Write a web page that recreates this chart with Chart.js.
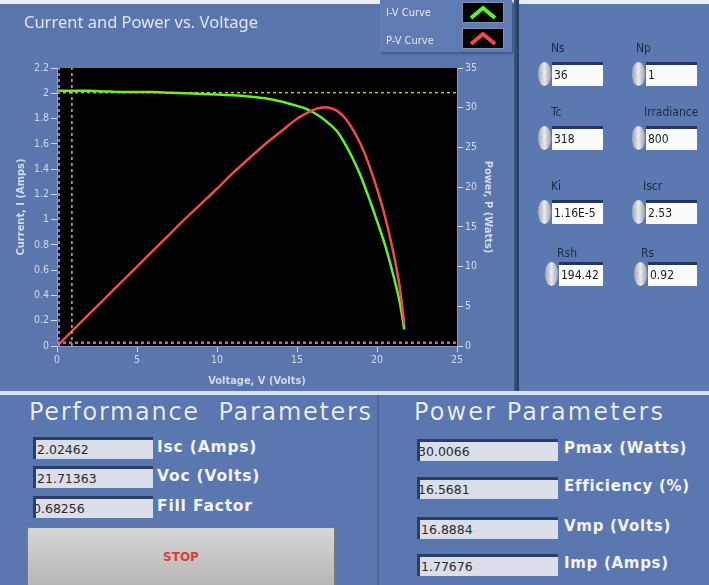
<!DOCTYPE html>
<html>
<head>
<meta charset="utf-8">
<script src="https://cdn.jsdelivr.net/npm/chart.js@4.4.1/dist/chart.umd.min.js"></script>
<style>
  body { margin: 0; width: 709px; height: 585px; overflow: hidden; background: #e8eef8; position: relative; font-family: 'DejaVu Sans', sans-serif; }
  .abs { position: absolute; }
  #top { left: 0; top: 4px; width: 516px; height: 388px; background: #5a76ad; }
  #divider { left: 514px; top: 0; width: 5px; height: 392px; background: linear-gradient(to right, #3d5686, #24375e); }
  #right { left: 519px; top: 4px; width: 190px; height: 388px; background: #5b78b0; }
  #sep { left: 0; top: 391px; width: 709px; height: 4px; background: #d5e2ee; }
  #bottom { left: 0; top: 395px; width: 709px; height: 190px; background: #5b77af; }
  #bdiv { left: 377px; top: 395px; width: 2px; height: 190px; background: #4c6699; }
  #chartWrap { left: 0; top: 0; width: 515px; height: 390px; }
  #title { left: 24px; top: 10px; color: #e2e6ef; font: 16.5px 'Noto Sans', sans-serif; }
  #legend { left: 380px; top: 0; width: 132px; height: 52px; background: #5f7bb2; box-shadow: 2px 2px 2px #3f5888; }
  .leg { position: absolute; left: 6px; color: #e4e8f0; font: 11px 'DejaVu Sans Condensed', sans-serif; }
  .legicon { position: absolute; left: 82px; width: 40px; height: 19px; background: #000; border: 1px solid #8090b0; }
  .hdr { position: absolute; color: #e9edf5; font-size: 24px; text-shadow: 0 0 1px #3a5080; white-space: nowrap; }
  .valbox { position: absolute; height: 19px; background: #d9dee9; border-top: 3px solid #2c3d66; border-left: 3px solid #2c3d66; color: #2a2a2a; font-size: 12.5px; line-height: 19px; padding-left: 1px; overflow: hidden; white-space: nowrap; }
  .vlabel { position: absolute; color: #f2f4f8; font-weight: bold; white-space: nowrap; }
  .vl1 { font-size: 15.5px; letter-spacing: 0.8px; }
  .vl2 { font-size: 15px; letter-spacing: 0.7px; }
  #stop { left: 27px; top: 527px; width: 306px; height: 60px; background: linear-gradient(#d6d6d6, #c2c2c2 60%, #b4b4b4); border: 1px solid #7a7a7a; border-radius: 2px; color: #e03a3a; font-weight: bold; font-size: 12px; text-align: center; line-height: 58px; }
  .clabel { position: absolute; color: #1d2944; font: 12px 'DejaVu Sans Condensed', sans-serif; }
  .spin { position: absolute; width: 13px; height: 24px; border-radius: 7px / 12px; background: linear-gradient(to right, #9ea4ae, #e8eaee 50%, #9ea4ae); }
  .cbox { position: absolute; height: 21px; background: #fbfcfd; border-top: 3px solid #25345c; color: #202020; font: 12px 'DejaVu Sans Condensed', sans-serif; line-height: 21px; padding-left: 2px; }
</style>
</head>
<body>
<div id="top" class="abs"></div>
<div id="divider" class="abs"></div>
<div id="right" class="abs"></div>
<div id="sep" class="abs"></div>
<div id="bottom" class="abs"></div>
<div id="bdiv" class="abs"></div>

<div id="chartWrap" class="abs"><canvas id="ivChart" width="515" height="390"></canvas></div>
<div id="title" class="abs">Current and Power vs. Voltage</div>
<div id="legend" class="abs">
  <div class="leg" style="top:6px">I-V Curve</div>
  <div class="legicon" style="top:2px"><svg width="40" height="19"><polyline points="8,15 20,5 32,15" fill="none" stroke="#5ef02a" stroke-width="4"/></svg></div>
  <div class="leg" style="top:34px">P-V Curve</div>
  <div class="legicon" style="top:28px"><svg width="40" height="19"><polyline points="8,15 20,5 32,15" fill="none" stroke="#f04848" stroke-width="4"/></svg></div>
</div>

<!-- input controls -->
<div class="clabel" style="left:551px;top:41px">Ns</div>
<div class="spin" style="left:538px;top:62px"></div>
<div class="cbox" style="left:552px;top:62px;width:49px">36</div>
<div class="clabel" style="left:636px;top:41px">Np</div>
<div class="spin" style="left:632px;top:62px"></div>
<div class="cbox" style="left:646px;top:62px;width:49px">1</div>

<div class="clabel" style="left:551px;top:105px">Tc</div>
<div class="spin" style="left:538px;top:126px"></div>
<div class="cbox" style="left:552px;top:126px;width:49px">318</div>
<div class="clabel" style="left:644px;top:105px">Irradiance</div>
<div class="spin" style="left:632px;top:126px"></div>
<div class="cbox" style="left:646px;top:126px;width:49px">800</div>

<div class="clabel" style="left:551px;top:179px">Ki</div>
<div class="spin" style="left:538px;top:200px"></div>
<div class="cbox" style="left:552px;top:200px;width:49px">1.16E-5</div>
<div class="clabel" style="left:643px;top:179px">Iscr</div>
<div class="spin" style="left:632px;top:200px"></div>
<div class="cbox" style="left:646px;top:200px;width:49px">2.53</div>

<div class="clabel" style="left:557px;top:246px">Rsh</div>
<div class="spin" style="left:545px;top:262px"></div>
<div class="cbox" style="left:559px;top:262px;width:42px">194.42</div>
<div class="clabel" style="left:641px;top:246px">Rs</div>
<div class="spin" style="left:634px;top:262px"></div>
<div class="cbox" style="left:648px;top:262px;width:47px">0.92</div>

<!-- performance parameters -->
<div class="hdr" style="left:29px;top:398px;letter-spacing:1.7px">Performance&nbsp; Parameters</div>
<div class="valbox" style="left:33px;top:437px;width:116px">2.02462</div>
<div class="vlabel vl1" style="left:157px;top:438px">Isc (Amps)</div>
<div class="valbox" style="left:33px;top:466px;width:116px">21.71363</div>
<div class="vlabel vl1" style="left:157px;top:467px">Voc (Volts)</div>
<div class="valbox" style="left:33px;top:496px;width:116px"><span style="margin-left:-4px">0.68256</span></div>
<div class="vlabel vl1" style="left:157px;top:497px">Fill Factor</div>
<div id="stop" class="abs">STOP</div>

<!-- power parameters -->
<div class="hdr" style="left:414px;top:398px;letter-spacing:2.1px">Power Parameters</div>
<div class="valbox" style="left:417px;top:439px;width:137px"><span style="margin-left:-3px">30.0066</span></div>
<div class="vlabel vl2" style="left:564px;top:439px">Pmax (Watts)</div>
<div class="valbox" style="left:417px;top:477px;width:137px"><span style="margin-left:-3px">16.5681</span></div>
<div class="vlabel vl2" style="left:564px;top:477px">Efficiency (%)</div>
<div class="valbox" style="left:417px;top:517px;width:137px">16.8884</div>
<div class="vlabel vl2" style="left:564px;top:517px">Vmp (Volts)</div>
<div class="valbox" style="left:417px;top:554px;width:137px">1.77676</div>
<div class="vlabel vl2" style="left:564px;top:554px">Imp (Amps)</div>

<script>
// values
const voltage = [0, 1, 2, 3, 4, 5, 6, 7, 8, 9, 10, 11, 12, 13, 14, 15, 15.5, 16, 16.5, 17, 17.5, 18, 18.5, 19, 19.5, 20, 20.5, 21, 21.4, 21.71]
const current = [2.02, 2.02, 2.02, 2.015, 2.01, 2.01, 2.01, 2.005, 2.0, 1.995, 1.99, 1.985, 1.975, 1.96, 1.935, 1.90, 1.88, 1.85, 1.81, 1.76, 1.70, 1.60, 1.48, 1.34, 1.17, 0.99, 0.80, 0.57, 0.36, 0.13]
const power = [0, 2.0, 4.0, 6.0, 8.0, 10.0, 12.0, 14.0, 16.0, 17.9, 19.8, 21.8, 23.6, 25.4, 27.0, 28.6, 29.2, 29.7, 30.0, 30.0, 29.6, 28.7, 27.2, 25.3, 22.8, 19.8, 16.3, 12.0, 7.7, 2.8]

// cursor positions
const cursorV = [0.93, 0.13]
const cursorI = [2.005, 0.026]

// axis ranges
const xRange = [0, 25, 5]
const iRange = [0, 2.2, 0.2]
const pRange = [0, 35, 5]

const tickColor = '#d3dae8'
const tickFont = { family: "'DejaVu Sans Condensed', sans-serif", size: 10.5 }
const titleFont = { family: "'DejaVu Sans Condensed', sans-serif", size: 11, weight: 'bold' }
const fmt = (value) => String(Math.round(value * 10) / 10)

const plotBg = {
	id: 'plotBg',
	beforeDraw(chart) {
		const { ctx, chartArea: a } = chart
		ctx.save()
		ctx.fillStyle = '#000'
		ctx.fillRect(a.left, a.top, a.right - a.left, a.bottom - a.top)
		ctx.restore()
	}
}

const ctx = document.getElementById('ivChart').getContext('2d')

new Chart(ctx, {
	type: 'line',
	data: {
		datasets: [
			{
				data: [{ x: cursorV[1], y: iRange[0] }, { x: cursorV[1], y: iRange[1] }],
				borderColor: '#a872d2', borderWidth: 2, borderDash: [3, 3], pointRadius: 0, yAxisID: 'y'
			},
			{
				data: [{ x: xRange[0], y: cursorI[1] }, { x: xRange[1], y: cursorI[1] }],
				borderColor: '#a872d2', borderWidth: 2.5, borderDash: [3, 3], pointRadius: 0, yAxisID: 'y'
			},
			{
				data: [{ x: cursorV[0], y: iRange[0] }, { x: cursorV[0], y: iRange[1] }],
				borderColor: '#c6c22a', borderWidth: 1.5, borderDash: [3, 3], pointRadius: 0, yAxisID: 'y'
			},
			{
				data: [{ x: xRange[0], y: cursorI[0] }, { x: xRange[1], y: cursorI[0] }],
				borderColor: '#c6c22a', borderWidth: 1.5, borderDash: [3, 3], pointRadius: 0, yAxisID: 'y'
			},
			{
				label: 'P-V Curve',
				data: voltage.map((v, i) => ({ x: v, y: power[i] })),
				borderColor: '#f04a4a', borderWidth: 2.5, pointRadius: 0, tension: 0.3, yAxisID: 'y2'
			},
			{
				label: 'I-V Curve',
				data: voltage.map((v, i) => ({ x: v, y: current[i] })),
				borderColor: '#66f02a', borderWidth: 2.5, pointRadius: 0, tension: 0.3, yAxisID: 'y'
			}
		]
	},
	options: {
		responsive: false,
		animation: false,
		layout: { padding: { top: 68, left: 4, right: 0, bottom: 0 } },
		plugins: {
			legend: { display: false },
			tooltip: { enabled: false }
		},
		scales: {
			x: {
				type: 'linear',
				min: xRange[0],
				max: xRange[1],
				afterFit: (scale) => { scale.height = 44 },
				ticks: { stepSize: xRange[2], color: tickColor, font: tickFont, padding: 2, callback: fmt },
				grid: { drawOnChartArea: false, tickColor: tickColor, tickLength: 6 },
				border: { color: '#8e9cbc' },
				title: { display: true, text: 'Voltage, V (Volts)', color: tickColor, font: titleFont, padding: { top: 0, bottom: 2 } }
			},
			y: {
				position: 'left',
				min: iRange[0],
				max: iRange[1],
				afterFit: (scale) => { scale.width = 53 },
				ticks: { stepSize: iRange[2], color: tickColor, font: tickFont, padding: 2, callback: fmt },
				grid: { drawOnChartArea: false, tickColor: tickColor, tickLength: 6 },
				border: { color: '#8e9cbc' },
				title: { display: true, text: 'Current, I (Amps)', color: tickColor, font: titleFont, padding: { top: 11, bottom: 0 } }
			},
			y2: {
				position: 'right',
				min: pRange[0],
				max: pRange[1],
				afterFit: (scale) => { scale.width = 58 },
				ticks: { stepSize: pRange[2], color: tickColor, font: tickFont, padding: 2, callback: fmt },
				grid: { drawOnChartArea: false, tickColor: tickColor, tickLength: 6 },
				border: { color: '#8e9cbc' },
				title: { display: true, text: 'Power, P (Watts)', color: tickColor, font: titleFont, padding: { top: 21, bottom: 0 } }
			}
		}
	},
	plugins: [plotBg]
})
</script>
</body>
</html>
